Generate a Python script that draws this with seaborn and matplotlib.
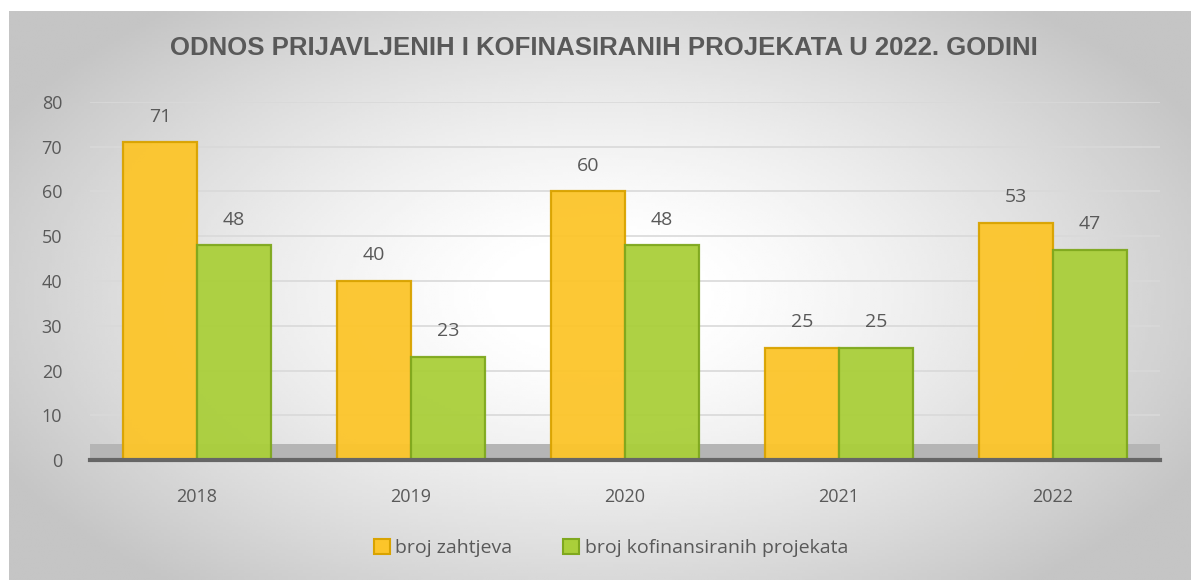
import matplotlib
matplotlib.use("Agg")
import matplotlib.pyplot as plt
import numpy as np
import pandas as pd
import seaborn as sns

# data
years = ["2018", "2019", "2020", "2021", "2022"]
broj_zahtjeva = [71, 40, 60, 25, 53]
broj_kofinansiranih = [48, 23, 48, 25, 47]
series_names = ["broj zahtjeva", "broj kofinansiranih projekata"]
y_ticks = [0, 10, 20, 30, 40, 50, 60, 70, 80]

TITLE = "ODNOS PRIJAVLJENIH I KOFINASIRANIH PROJEKATA U 2022. GODINI"
TEXT_COLOR = "#595959"
FACE_COLORS = ["#FCC52A", "#AACF3A"]
EDGE_COLORS = ["#D9A300", "#7FA81E"]

sns.set_style("white")
plt.rcParams["font.family"] = ["Open Sans", "DejaVu Sans"]

df = pd.DataFrame({
    "year": years * 2,
    "value": broj_zahtjeva + broj_kofinansiranih,
    "series": [series_names[0]] * len(years) + [series_names[1]] * len(years),
})

fig = plt.figure(figsize=(11.91, 5.8), dpi=100)

# radial gray gradient behind the whole chart area
bg = fig.add_axes([9 / 1191, 0, 1 - 9 / 1191, 1 - 11 / 580], zorder=0)
gx, gy = np.meshgrid(np.linspace(-1, 1, 400), np.linspace(-1, 1, 200))
r = np.sqrt(gx ** 2 + (gy / 1.15) ** 2)
shade = 1.0 - 0.23 * np.clip((r - 0.15) / 1.0, 0, 1) ** 1.3
bg.imshow(shade, cmap="gray", vmin=0, vmax=1, aspect="auto", extent=(0, 1, 0, 1))
bg.axis("off")

ax = fig.add_axes([90 / 1191, 1 - 460 / 580, (1160 - 90) / 1191, (460 - 102) / 580], zorder=1)
ax.patch.set_alpha(0)

sns.barplot(
    data=df, x="year", y="value", hue="series", ax=ax,
    palette=FACE_COLORS, width=0.69, gap=0, saturation=1, legend=True,
)

for container, edge in zip(ax.containers, EDGE_COLORS):
    for bar in container:
        bar.set_edgecolor(edge)
        bar.set_linewidth(1.6)
        bar.set_alpha(0.95)
    ax.bar_label(container, padding=12, fontsize=14, color=TEXT_COLOR)

# gray floor under the bars
ax.axhspan(0, 3.5, color="#b5b5b5", zorder=0.5, linewidth=0)

ax.set_ylim(0, 80)
ax.set_xlim(-0.5, 4.5)
ax.set_yticks(y_ticks)
ax.yaxis.grid(True, color="#d9d9d9", linewidth=1.2)
ax.set_axisbelow(True)
ax.set_xlabel("")
ax.set_ylabel("")
ax.tick_params(axis="y", length=0, pad=20, labelsize=13, labelcolor=TEXT_COLOR)
ax.tick_params(axis="x", length=0, pad=20, labelsize=13, labelcolor=TEXT_COLOR)
for side in ["top", "right", "left"]:
    ax.spines[side].set_visible(False)
ax.spines["bottom"].set_color("#666666")
ax.spines["bottom"].set_linewidth(3)

handles, labels = ax.get_legend_handles_labels()
ax.legend_.remove()
for h, edge in zip(handles, EDGE_COLORS):
    h.set_edgecolor(edge)
    h.set_linewidth(1.5)
fig.legend(
    handles, labels, loc="center", bbox_to_anchor=(0.513, 1 - 548 / 580), ncol=2,
    frameon=False, fontsize=14, labelcolor=TEXT_COLOR, handlelength=0.8, handleheight=0.8,
    handletextpad=0.3, columnspacing=2.6,
)

fig.text(
    0.507, 1 - 48 / 580, TITLE, ha="center", va="center", fontsize=18.5, fontweight="bold",
    color=TEXT_COLOR, family=["Liberation Sans", "DejaVu Sans"],
)

fig.savefig("out.png", dpi=100)
